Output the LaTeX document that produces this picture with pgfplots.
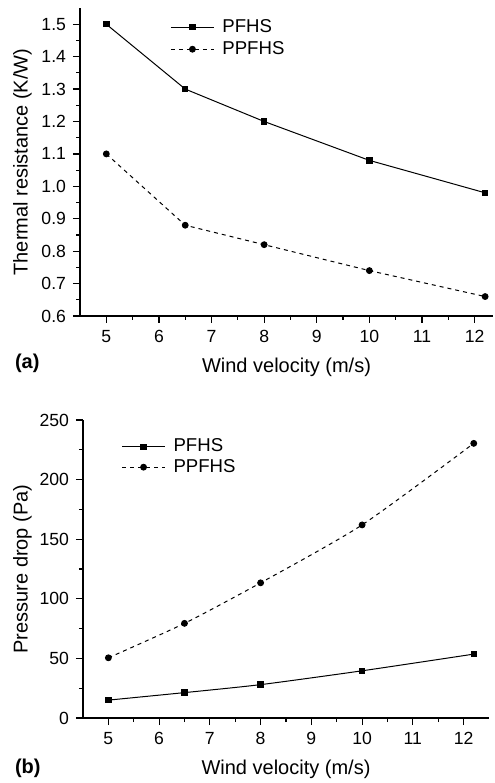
\documentclass[border=0pt]{standalone}
\usepackage{pgfplots}
\pgfplotsset{compat=1.18}
\usepackage{fontspec}
\setmainfont{Liberation Sans}

\pgfplotsset{
  panel/.style={
    scale only axis,
    axis x line=bottom, axis y line=left,
    axis line style={-, line width=0.6pt},
    tick align=outside,
    major tick length=3.5pt, minor tick length=2pt,
    tick style={line width=0.6pt, black},
    minor x tick num=1, minor y tick num=1,
    xtick={5,6,...,12},
    tick label style={font=\fontsize{8.8}{10}\selectfont},
    label style={font=\fontsize{10}{12}\selectfont},
    xlabel style={yshift=-1pt},
    /pgf/number format/assume math mode=true,
    xlabel={Wind velocity (m/s)},
    legend cell align=left,
    legend style={draw=none, fill=none, font=\fontsize{9.3}{11}\selectfont,
      inner sep=0pt, nodes={inner sep=1pt, text depth=0.15em},
      /tikz/every odd column/.append style={column sep=3pt}},
    legend image code/.code={\draw[mark repeat=2,mark phase=2]
      plot coordinates {(0pt,0pt) (10.75pt,0pt) (21.5pt,0pt)};},
  },
  pf/.style={black, line width=0.5pt, mark=square*, mark size=1.35pt,
    mark options={solid}},
  ppf/.style={black, line width=0.5pt, dash pattern=on 2pt off 2pt,
    mark=*, mark size=1.45pt, mark options={solid}},
}

\begin{document}
\begin{tikzpicture}
\path[use as bounding box] (0,0) rectangle (247pt,391.5pt);

% (a) thermal resistance
\begin{axis}[panel,
  at={(40pt,233.5pt)}, anchor=south west,
  width=206.5pt, height=154pt,
  xmin=4.5, xmax=12.35,
  ymin=0.6, ymax=1.55,
  ytick={0.6,0.7,...,1.5},
  yticklabel style={/pgf/number format/fixed, /pgf/number format/fixed zerofill,
    /pgf/number format/precision=1},
  ylabel={Thermal resistance (K/W)},
  ylabel style={yshift=-2pt},
  legend style={at={(0.218,0.972)}, anchor=north west, row sep=1.1pt},
]
\addplot[pf] coordinates {(5,1.50) (6.5,1.30) (8,1.20) (10,1.08) (12.2,0.98)};
\addplot[ppf] coordinates {(5,1.10) (6.5,0.88) (8,0.82) (10,0.74) (12.2,0.66)};
\legend{PFHS, PPFHS}
\end{axis}

% (b) pressure drop
\begin{axis}[panel,
  at={(41.5pt,32.5pt)}, anchor=south west,
  width=203pt, height=149pt,
  xmin=4.5, xmax=12.5,
  ymin=0, ymax=250,
  ytick={0,50,...,250},
  ylabel={Pressure drop (Pa)},
  ylabel style={yshift=-3pt},
  legend style={at={(0.094,0.945)}, anchor=north west, row sep=0.2pt},
]
\addplot[pf, smooth, tension=0.4] coordinates {(5,15) (6.5,21.3) (8,28) (10,39.6) (12.2,53.6)};
\addplot[ppf, smooth, tension=0.4] coordinates {(5,50.5) (6.5,79.4) (8,113.4) (10,162) (12.2,230.4)};
\legend{PFHS, PPFHS}
\end{axis}

\node[anchor=west, font=\bfseries\fontsize{10}{12}\selectfont] at (4pt,210pt) {(a)};
\node[anchor=west, font=\bfseries\fontsize{10}{12}\selectfont] at (4pt,7.5pt) {(b)};
\end{tikzpicture}
\end{document}
